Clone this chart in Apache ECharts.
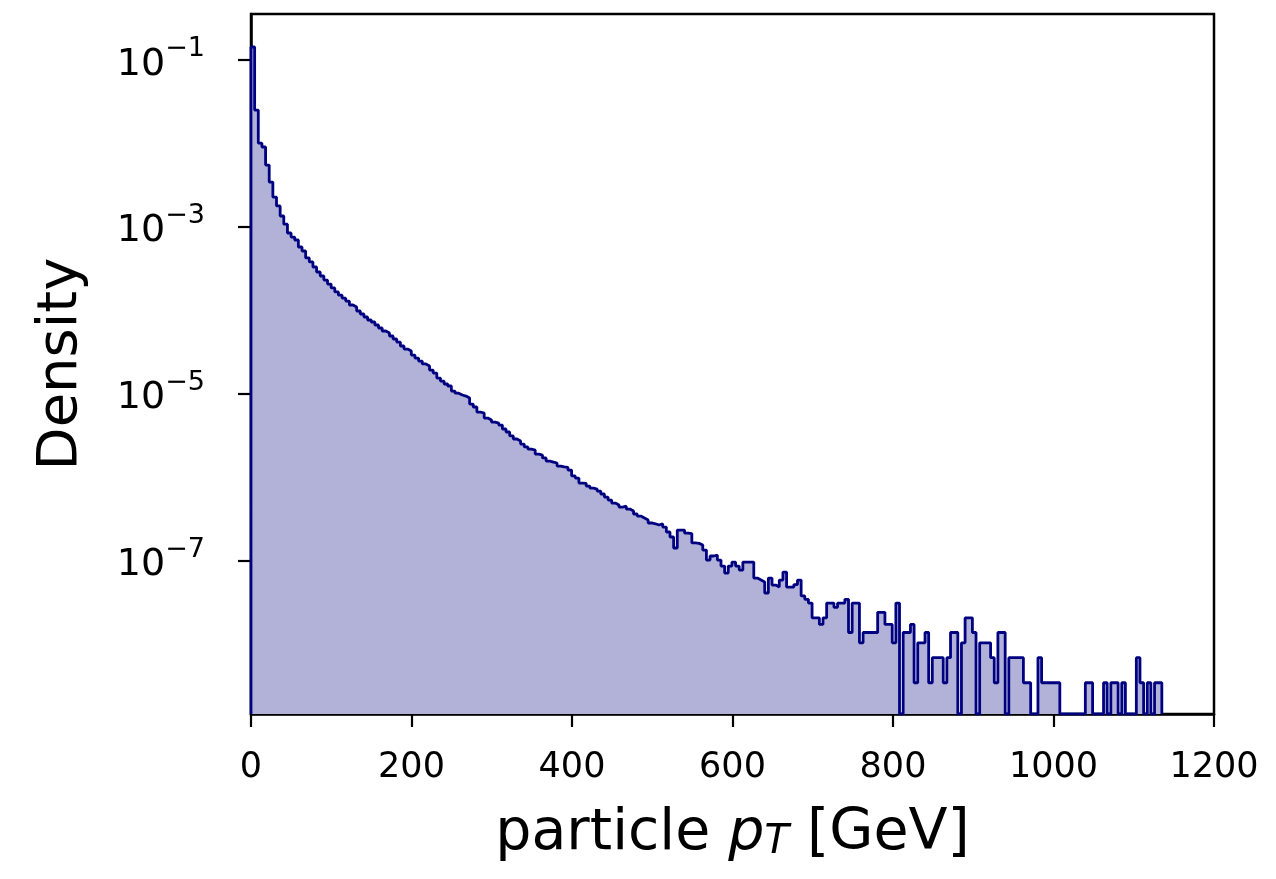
<!DOCTYPE html>
<html><head><meta charset="utf-8">
<script src="https://cdn.jsdelivr.net/npm/echarts@6/dist/echarts.min.js"></script>
<style>html,body{margin:0;padding:0;background:#fff}#c{width:1276px;height:879px}</style>
</head><body><div id="c"></div>
<script>
// Histogram binning (GeV)
const ptMin = 0, ptMax = 1135, nBins = 250;

// Density per bin, bins 0-59
const densityHead = [
  0.142, 0.0249, 0.0100, 0.00899, 0.00547, 0.00342, 0.00226, 0.00177, 0.00134, 0.00107,
  8.38e-4, 7.50e-4, 6.91e-4, 5.70e-4, 5.10e-4, 4.21e-4, 3.77e-4, 3.28e-4, 2.86e-4, 2.56e-4,
  2.29e-4, 2.05e-4, 1.84e-4, 1.65e-4, 1.51e-4, 1.39e-4, 1.28e-4, 1.15e-4, 1.09e-4, 9.75e-5,
  8.97e-5, 8.26e-5, 7.60e-5, 7.19e-5, 6.62e-5, 6.10e-5, 5.61e-5, 5.31e-5, 4.89e-5, 4.50e-5,
  4.14e-5, 3.71e-5, 3.41e-5, 3.23e-5, 2.89e-5, 2.66e-5, 2.45e-5, 2.26e-5, 2.14e-5, 1.91e-5,
  1.76e-5, 1.53e-5, 1.41e-5, 1.30e-5, 1.23e-5, 1.07e-5, 1.01e-5, 9.60e-6, 9.33e-6, 8.83e-6
];
// bins 60-139
const densityMid = [
  7.48e-6, 6.89e-6, 6.00e-6, 5.84e-6, 5.08e-6, 4.81e-6, 4.55e-6, 4.43e-6, 4.19e-6, 3.76e-6,
  3.46e-6, 3.10e-6, 2.85e-6, 2.70e-6, 2.48e-6, 2.29e-6, 2.16e-6, 2.10e-6, 1.88e-6, 1.83e-6,
  1.69e-6, 1.55e-6, 1.51e-6, 1.47e-6, 1.35e-6, 1.32e-6, 1.30e-6, 1.21e-6, 1.03e-6, 9.71e-7,
  8.46e-7, 8.40e-7, 7.79e-7, 7.37e-7, 7.17e-7, 6.78e-7, 6.25e-7, 5.75e-7, 5.29e-7, 4.87e-7,
  4.61e-7, 4.36e-7, 4.47e-7, 4.13e-7, 3.91e-7, 3.60e-7, 3.40e-7, 3.22e-7, 3.05e-7, 2.81e-7,
  2.75e-7, 2.66e-7, 2.75e-7, 2.51e-7, 2.19e-7, 1.91e-7, 1.41e-7, 2.31e-7, 2.31e-7, 2.13e-7,
  2.10e-7, 1.62e-7, 1.60e-7, 1.53e-7, 1.33e-7, 1.01e-7, 1.13e-7, 1.16e-7, 1.01e-7, 8.57e-8,
  7.06e-8, 8.57e-8, 9.57e-8, 8.57e-8, 7.67e-8, 9.57e-8, 9.57e-8, 9.57e-8, 6.15e-8, 5.82e-8
];
// bins 140-249
const densityTail = [
  5.51e-8, 4.07e-8, 6.15e-8, 5.07e-8, 4.80e-8, 5.82e-8, 7.26e-8, 4.80e-8, 4.80e-8, 5.13e-8,
  5.82e-8, 3.76e-8, 3.42e-8, 3.08e-8, 2.05e-8, 2.05e-8, 1.71e-8, 2.05e-8, 3.08e-8, 3.08e-8,
  2.74e-8, 3.08e-8, 3.08e-8, 3.42e-8, 1.37e-8, 3.08e-8, 3.08e-8, 1.03e-8, 1.37e-8, 1.37e-8,
  1.37e-8, 1.37e-8, 2.39e-8, 2.39e-8, 1.71e-8, 1.71e-8, 1.03e-8, 3.08e-8, 0, 1.37e-8,
  1.37e-8, 1.71e-8, 3.42e-9, 1.03e-8, 1.03e-8, 1.37e-8, 3.42e-9, 6.84e-9, 6.84e-9, 6.84e-9,
  3.42e-9, 6.84e-9, 1.37e-8, 1.37e-8, 0, 1.03e-8, 2.05e-8, 2.05e-8, 1.37e-8, 0,
  1.03e-8, 1.03e-8, 1.03e-8, 6.84e-9, 3.42e-9, 1.37e-8, 1.37e-8, 0, 6.84e-9, 6.84e-9,
  6.84e-9, 6.84e-9, 3.42e-9, 3.42e-9, 0, 0, 6.84e-9, 3.42e-9, 3.42e-9, 3.42e-9,
  3.42e-9, 3.42e-9, 0, 0, 0, 0, 0, 0, 0, 3.42e-9,
  3.42e-9, 0, 0, 0, 3.42e-9, 0, 3.42e-9, 3.42e-9, 0, 3.42e-9,
  0, 0, 0, 6.84e-9, 3.42e-9, 0, 3.42e-9, 0, 3.42e-9, 3.42e-9
];

const xTicks = [0, 200, 400, 600, 800, 1000, 1200];
const yTicks = [1e-7, 1e-5, 1e-3, 1e-1];
const yRange = [1.445e-9, 0.3529];

const density = densityHead.concat(densityMid, densityTail);
const binW = (ptMax - ptMin) / nBins;
const floorV = yRange[0];
const pts = [[ptMin, floorV]];
density.forEach((d, i) => pts.push([ptMin + i * binW, d > 0 ? d : floorV]));
pts.push([ptMax, floorV]);

const FONT = 'DejaVu Sans';
const chart = echarts.init(document.getElementById('c'), null, {renderer: 'canvas'});
chart.setOption({
  animation: false,
  backgroundColor: '#fff',
  grid: {left: 251, right: 62, top: 14, bottom: 165, containLabel: false, outerBoundsMode: 'none',
         show: true, borderColor: '#000', borderWidth: 2.5, backgroundColor: 'transparent'},
  xAxis: {
    type: 'value', min: xTicks[0], max: xTicks[xTicks.length - 1], interval: 200,
    axisLine: {show: true, onZero: false, lineStyle: {color: '#000', width: 2.5}},
    axisTick: {show: true, length: 13, lineStyle: {color: '#000', width: 2.2}},
    axisLabel: {show: true, color: '#000', fontFamily: FONT, fontSize: 35, margin: 36,
                formatter: v => String(v),
                showMinLabel: true, showMaxLabel: true, hideOverlap: false},
    splitLine: {show: false},
    name: '{n|particle }{i|p}{s|T}{n| [GeV]}',
    nameLocation: 'middle', nameGap: 92,
    nameTextStyle: {rich: {
      n: {fontFamily: FONT, fontSize: 57, color: '#000'},
      i: {fontFamily: FONT, fontSize: 57, fontStyle: 'italic', color: '#000'},
      s: {fontFamily: FONT, fontSize: 40, fontStyle: 'italic', color: '#000', verticalAlign: 'bottom', lineHeight: 40}
    }}
  },
  yAxis: {
    type: 'log', logBase: 10, min: yRange[0], max: yRange[1],
    axisLine: {show: true, lineStyle: {color: '#000', width: 2.5}},
    axisTick: {show: true, length: 13, customValues: yTicks, lineStyle: {color: '#000', width: 2.2}},
    axisLabel: {
      show: true, customValues: yTicks, margin: 46, color: '#000',
      formatter: v => '{b|10}{s|\u2212' + Math.round(-Math.log10(v)) + '}',
      rich: {
        b: {fontFamily: FONT, fontSize: 38, color: '#000', lineHeight: 48, verticalAlign: 'bottom'},
        s: {fontFamily: FONT, fontSize: 27, color: '#000', lineHeight: 28, verticalAlign: 'top'}
      }
    },
    splitLine: {show: false},
    name: 'Density', nameLocation: 'middle', nameGap: 162,
    nameTextStyle: {fontFamily: FONT, fontSize: 56, color: '#000'}
  },
  series: [{
    type: 'line', step: 'end', data: pts, showSymbol: false, symbol: 'none',
    lineStyle: {color: '#000080', width: 2.8},
    areaStyle: {color: 'rgb(178,178,217)', opacity: 1, origin: 'start'},
    clip: true, z: 1
  }]
});
</script></body></html>
